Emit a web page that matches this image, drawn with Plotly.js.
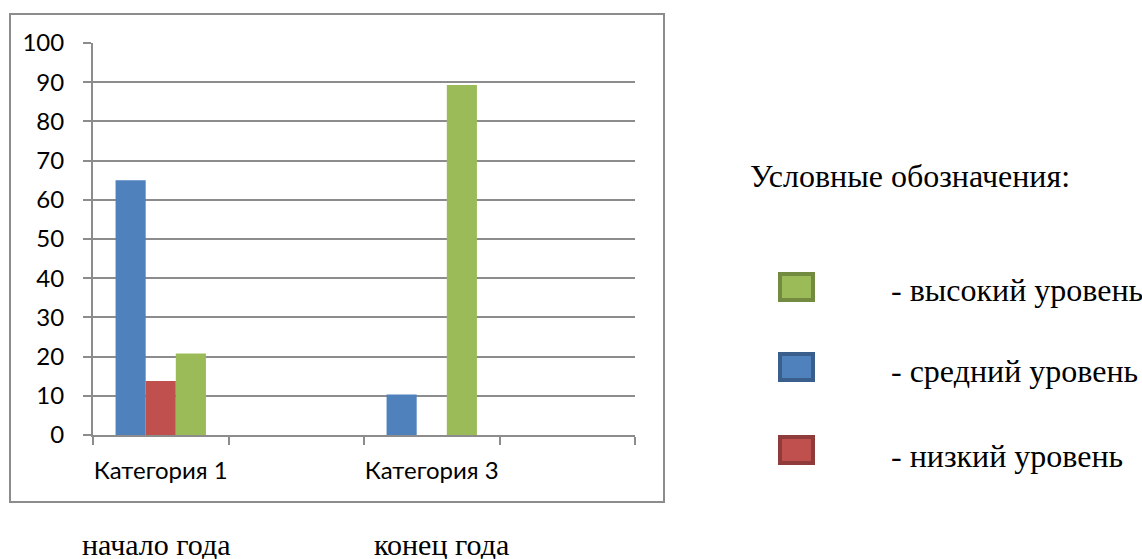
<!DOCTYPE html>
<html>
<head>
<meta charset="utf-8">
<script src="https://cdn.plot.ly/plotly-3.0.1.min.js"></script>
<style>html,body{margin:0;padding:0;background:#fff;}#chart{width:1142px;height:559px;}</style>
</head>
<body>
<div id="chart"></div>
<script>
// ---- data ----
var categories = ['Категория 1', 'Категория 2', 'Категория 3', 'Категория 4'];
var tickLabels = ['Категория 1', '', 'Категория 3', ''];
var seriesNames = ['средний уровень', 'низкий уровень', 'высокий уровень'];
var mediumValues = [65, null, 10.3, null];
var lowValues = [13.8, null, null, null];
var highValues = [20.8, null, 89.3, null];
var yTicks = [0, 10, 20, 30, 40, 50, 60, 70, 80, 90, 100];
var legendTitle = 'Условные обозначения:';
var legendItems = ['- высокий уровень', '- средний уровень', '- низкий уровень'];
var bottomLabels = ['начало года', 'конец года'];

// ---- layout helpers (pixel -> paper) ----
var W = 1142, H = 559;
var M = {l: 93, r: 1142 - 635, t: 43, b: 559 - 435};
var PW = W - M.l - M.r, PH = H - M.t - M.b;
function px(x) { return (x - M.l) / PW; }
function py(y) { return (H - M.b - y) / PH; }

var blue = '#4F81BD', red = '#C0504D', green = '#9BBB59';
var blueB = '#3A5F8C', redB = '#8E3B39', greenB = '#728B40';
var grid = '#8C8C8C';

var traces = [
  {type: 'bar', name: seriesNames[0], x: categories, y: mediumValues, marker: {color: blue}},
  {type: 'bar', name: seriesNames[1], x: categories, y: lowValues, marker: {color: red}},
  {type: 'bar', name: seriesNames[2], x: categories, y: highValues, marker: {color: green}}
];

var serif = 'Liberation Serif';
var sans = 'Lato';

var shapes = [
  {type: 'rect', xref: 'paper', yref: 'paper', x0: px(10), x1: px(664), y0: py(502), y1: py(14),
   line: {color: grid, width: 2}, fillcolor: 'rgba(0,0,0,0)', layer: 'below'}
];
var sqColors = [[green, greenB], [blue, blueB], [red, redB]];
var sqTops = [272, 352, 435];
for (var i = 0; i < 3; i++) {
  shapes.push({type: 'rect', xref: 'paper', yref: 'paper',
    x0: px(780), x1: px(813), y0: py(sqTops[i] + 28), y1: py(sqTops[i] + 2),
    fillcolor: sqColors[i][0], line: {color: sqColors[i][1], width: 4}});
}

var annotations = [
  {xref: 'paper', yref: 'paper', x: px(748), y: py(176), xanchor: 'left', yanchor: 'middle',
   text: legendTitle, showarrow: false, font: {family: serif, size: 32, color: '#000'}}
];
var textYs = [290, 371, 456];
for (var j = 0; j < 3; j++) {
  annotations.push({xref: 'paper', yref: 'paper', x: px(889), y: py(textYs[j]), xanchor: 'left', yanchor: 'middle',
    text: legendItems[j], showarrow: false, font: {family: serif, size: 32, color: '#000'}});
}
var bottomXs = [80, 372];
for (var k = 0; k < 2; k++) {
  annotations.push({xref: 'paper', yref: 'paper', x: px(bottomXs[k]), y: py(544), xanchor: 'left', yanchor: 'middle',
    text: bottomLabels[k], showarrow: false, font: {family: serif, size: 30, color: '#000'}});
}

var layout = {
  width: W, height: H,
  margin: M,
  paper_bgcolor: '#fff', plot_bgcolor: '#fff',
  showlegend: false,
  barmode: 'group',
  bargap: 0.333, bargroupgap: 0,
  xaxis: {
    type: 'category', categoryorder: 'array', categoryarray: categories,
    range: [-0.5, 3.5],
    tickmode: 'array', tickvals: categories, ticktext: tickLabels,
    tickson: 'boundaries', ticks: 'outside', ticklen: 8, tickwidth: 2, tickcolor: grid,
    tickangle: 0,
    showline: true, linecolor: grid, linewidth: 2,
    showgrid: false, zeroline: false,
    tickfont: {family: sans, size: 24, color: '#000'},
    ticklabelstandoff: 13
  },
  yaxis: {
    range: [0, 100], tickmode: 'array', tickvals: yTicks,
    ticks: 'outside', ticklen: 8, tickwidth: 2, tickcolor: grid,
    showline: true, linecolor: grid, linewidth: 2,
    showgrid: true, gridcolor: grid, gridwidth: 2,
    zeroline: false,
    tickfont: {family: sans, size: 24, color: '#000'},
    ticklabelstandoff: 14
  },
  shapes: shapes,
  annotations: annotations
};

Plotly.newPlot('chart', traces, layout, {displayModeBar: false, staticPlot: true});
</script>
</body>
</html>
